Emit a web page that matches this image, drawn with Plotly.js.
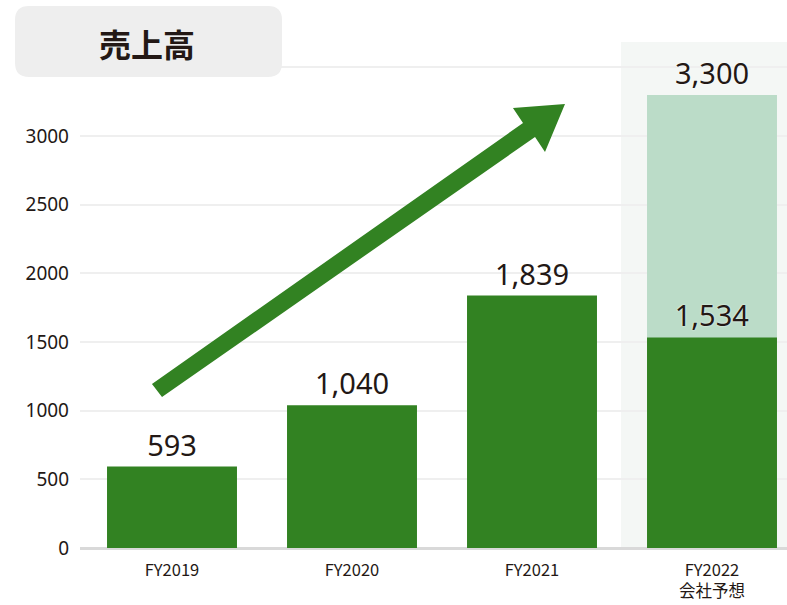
<!DOCTYPE html>
<html><head><meta charset="utf-8">
<script src="https://cdn.plot.ly/plotly-3.0.1.min.js"></script>
<style>body{margin:0;background:#fff}#c{width:787px;height:605px}</style>
</head><body><div id="c"></div>
<script>
const categories = ["FY2019", "FY2020", "FY2021", "FY2022<br>会社予想"];
const actualValues = [593, 1040, 1839, 1534];
const forecastCategories = ["FY2022<br>会社予想"];
const forecastValues = [3300];
const yTicks = [0, 500, 1000, 1500, 2000, 2500, 3000, 3500];

const L = 80, R = 787, T = 40, B = 548;
const px = x => (x - L) / (R - L);
const py = y => (B - y) / (B - T);
const P = (x, y) => px(x).toFixed(4) + "," + py(y).toFixed(4);
const arrowPts = [[152,384],[523,123],[513,108],[565,104],[545,152],[535,137],[162,397]];
const arrowPath = "M" + arrowPts.map(p => P(p[0], p[1])).join(" L") + " Z";
// rounded title box
const bx0 = 15, bx1 = 282, by0 = 6, by1 = 77, r = 14;
const boxPath = "M" + P(bx0 + r, by0) + " L" + P(bx1 - r, by0) + " Q" + P(bx1, by0) + " " + P(bx1, by0 + r) +
  " L" + P(bx1, by1 - r) + " Q" + P(bx1, by1) + " " + P(bx1 - r, by1) +
  " L" + P(bx0 + r, by1) + " Q" + P(bx0, by1) + " " + P(bx0, by1 - r) +
  " L" + P(bx0, by0 + r) + " Q" + P(bx0, by0) + " " + P(bx0 + r, by0) + " Z";

const textFont = {family: "Noto Sans, Noto Sans CJK JP, sans-serif", size: 29, color: "#231815",
  shadow: "0px 0px 2px #ffffff"};

const data = [
  {type: "bar", x: forecastCategories, y: forecastValues, marker: {color: "#bbdcc8"},
   text: forecastValues.map(v => v.toLocaleString("en-US")), textposition: "outside",
   textfont: textFont, cliponaxis: false, hoverinfo: "skip"},
  {type: "bar", x: categories, y: actualValues, marker: {color: "#328222"},
   text: actualValues.map(v => v.toLocaleString("en-US")), textposition: "outside",
   textfont: textFont, cliponaxis: false, hoverinfo: "skip"}
];

const layout = {
  width: 787, height: 605,
  margin: {l: L, r: 0, t: T, b: 605 - B},
  paper_bgcolor: "#fff", plot_bgcolor: "rgba(0,0,0,0)",
  barmode: "overlay", bargap: 0.278, showlegend: false,
  font: {family: "Noto Sans CJK JP, Noto Sans, sans-serif", color: "#231815"},
  xaxis: {type: "category", categoryorder: "array", categoryarray: categories,
    range: [(L - 172) / 180, (R - 172) / 180], showgrid: false, showline: false, ticks: "",
    ticklabelstandoff: 10,
    tickfont: {size: 16.5, family: "Noto Sans CJK JP, sans-serif", color: "#231815"}},
  yaxis: {range: [0, 3700], tickvals: yTicks, showgrid: true, gridcolor: "#efefef", gridwidth: 2,
    zeroline: true, zerolinecolor: "#d9d9d9", zerolinewidth: 3, ticks: "", ticklabelstandoff: 10,
    tickfont: {size: 19, family: "Noto Sans, sans-serif", color: "#231815"}},
  shapes: [
    {type: "rect", xref: "paper", yref: "paper", x0: px(621), x1: 1, y0: 0, y1: py(42),
     fillcolor: "#f4f7f5", line: {width: 0}, layer: "below"},
    {type: "path", xref: "paper", yref: "paper", path: arrowPath, fillcolor: "#328222",
     line: {width: 0}, layer: "above"},
    {type: "path", xref: "paper", yref: "paper", path: boxPath,
     fillcolor: "#eeeeee", line: {width: 0}, layer: "above"}
  ],
  annotations: [
    {text: "<b>売上高</b>", xref: "paper", yref: "paper", x: px(147), y: py(43),
     xanchor: "center", yanchor: "middle", showarrow: false,
     font: {family: "Noto Sans CJK JP, sans-serif", size: 32, color: "#231815"}}
  ]
};
Plotly.newPlot("c", data, layout, {staticPlot: true});
</script></body></html>
